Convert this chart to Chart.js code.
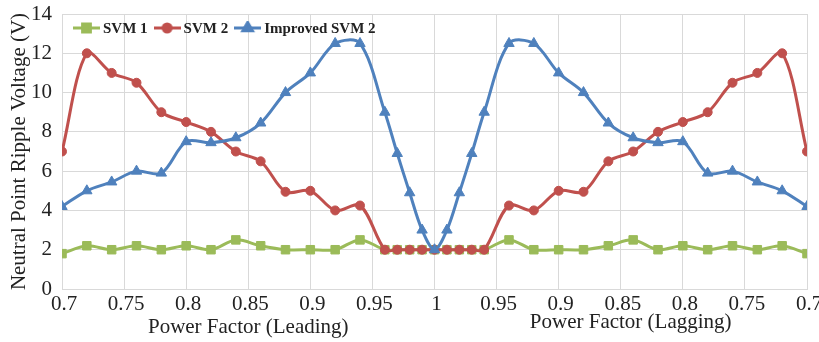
<!DOCTYPE html>
<html>
<head>
<meta charset="utf-8">
<script src="https://cdn.jsdelivr.net/npm/chart.js@4.4.1/dist/chart.umd.min.js"></script>
<style>
    html, body { margin: 0; padding: 0; background: #fff; }
    #wrap { width: 819px; height: 342px; }
</style>
</head>
<body>
<div id="wrap"><canvas id="rippleChart"></canvas></div>
<script>
// power factor sample points, leading side then unity then lagging side
const PF_LEADING = [0.70, 0.72, 0.74, 0.76, 0.78, 0.80, 0.82, 0.84, 0.86, 0.88, 0.90, 0.92, 0.94, 0.96, 0.97, 0.98, 0.99];
const PF_UNITY = [1.00];
const PF_LAGGING = [0.99, 0.98, 0.97, 0.96, 0.94, 0.92, 0.90, 0.88, 0.86, 0.84, 0.82, 0.80, 0.78, 0.76, 0.74, 0.72, 0.70];

const SERIES_NAMES = ['SVM 1', 'SVM 2', 'Improved SVM 2'];

const SVM1 = [
    1.8, 2.2, 2.0, 2.2, 2.0, 2.2, 2.0, 2.5, 2.2, 2.0, 2.0, 2.0, 2.5, 2.0, 2.0, 2.0, 2.0,
    2.0,
    2.0, 2.0, 2.0, 2.0, 2.5, 2.0, 2.0, 2.0, 2.2, 2.5, 2.0, 2.2, 2.0, 2.2, 2.0, 2.2, 1.8
];
const SVM2 = [
    7.0, 12.0, 11.0, 10.5, 9.0, 8.5, 8.0, 7.0, 6.5, 4.95, 5.0, 4.0, 4.25, 2.0, 2.0, 2.0, 2.0,
    2.0,
    2.0, 2.0, 2.0, 2.0, 4.25, 4.0, 5.0, 4.95, 6.5, 7.0, 8.0, 8.5, 9.0, 10.5, 11.0, 12.0, 7.0
];
const IMPROVED_SVM2 = [
    4.2, 5.0, 5.45, 6.0, 5.9, 7.5, 7.45, 7.7, 8.45, 10.0, 11.0, 12.5, 12.5, 9.0, 6.9, 4.9, 3.0,
    2.0,
    3.0, 4.9, 6.9, 9.0, 12.5, 12.5, 11.0, 10.0, 8.45, 7.7, 7.45, 7.5, 5.9, 6.0, 5.45, 5.0, 4.2
];

const Y_TITLE = 'Neutral Point Ripple Voltage (V)';
const X_TITLES = ['Power Factor (Leading)', 'Power Factor (Lagging)'];

const FONT_FAMILY = '"Liberation Serif", "Times New Roman", serif';
const TEXT_COLOR = '#222';
const GRID_COLOR = '#d9d9d9';
const COLORS = ['#9bbb59', '#c0504d', '#4f81bd'];
const STYLES = ['rect', 'circle', 'triangle'];
const RADII = [6, 4.5, 6];

// lagging side is folded out past unity: x = 2 - pf
const xPositions = [...PF_LEADING, ...PF_UNITY, ...PF_LAGGING.map(pf => 2 - pf)];

function toPoints(values) {
    return values.map((y, i) => ({ x: xPositions[i], y: y }));
}

function pfLabel(v) {
    const pf = v <= 1 ? v : 2 - v;
    return String(Math.round(pf * 100) / 100);
}

// little line + marker picture for each legend entry
function legendSwatch(idx) {
    const c = document.createElement('canvas');
    c.width = 27;
    c.height = 14;
    const g = c.getContext('2d');
    g.strokeStyle = COLORS[idx];
    g.fillStyle = COLORS[idx];
    g.lineWidth = 3;
    g.beginPath();
    g.moveTo(0, 7);
    g.lineTo(27, 7);
    g.stroke();
    Chart.helpers.drawPoint(g, { pointStyle: STYLES[idx], radius: RADII[idx] - 0.5, borderWidth: 1, rotation: 0 }, 13.5, 7);
    return c;
}

// excel style legend sitting inside the plot, top left
const insideLegend = {
    id: 'insideLegend',
    afterDatasetsDraw(chart) {
        const { ctx, chartArea } = chart;
        const swatches = chart.$swatches || (chart.$swatches = [0, 1, 2].map(legendSwatch));
        let x = chartArea.left + 11;
        const y = 28;
        ctx.save();
        ctx.font = 'bold 15px ' + FONT_FAMILY;
        ctx.fillStyle = TEXT_COLOR;
        ctx.textAlign = 'left';
        ctx.textBaseline = 'middle';
        chart.data.datasets.forEach((ds, i) => {
            ctx.drawImage(swatches[i], x, y - 7);
            x += 30;
            ctx.fillText(ds.label, x, y + 1);
            x += ctx.measureText(ds.label).width + 6;
        });
        ctx.restore();
    }
};

const axisCaptions = {
    id: 'axisCaptions',
    afterDraw(chart) {
        const { ctx } = chart;
        const x = chart.scales.x;
        ctx.save();
        ctx.font = '21px ' + FONT_FAMILY;
        ctx.fillStyle = TEXT_COLOR;
        ctx.textAlign = 'center';
        ctx.textBaseline = 'middle';
        ctx.fillText(X_TITLES[0], x.getPixelForValue(0.85), 327);
        ctx.fillText(X_TITLES[1], x.getPixelForValue(1.158), 322);
        ctx.restore();
    }
};

function makeDataset(idx, values, order) {
    return {
        label: SERIES_NAMES[idx],
        data: toPoints(values),
        borderColor: COLORS[idx],
        backgroundColor: COLORS[idx],
        borderWidth: 3,
        tension: 0.33,
        fill: false,
        pointStyle: STYLES[idx],
        pointRadius: RADII[idx],
        pointBorderWidth: 1,
        pointBackgroundColor: COLORS[idx],
        pointBorderColor: COLORS[idx],
        order: order
    };
}

function createChart() {
    const tickFont = { family: FONT_FAMILY, size: 21 };

    new Chart(document.getElementById('rippleChart'), {
        type: 'line',
        data: {
            datasets: [
                makeDataset(0, SVM1, 3),
                makeDataset(1, SVM2, 2),
                makeDataset(2, IMPROVED_SVM2, 1)
            ]
        },
        options: {
            responsive: true,
            maintainAspectRatio: false,
            animation: false,
            layout: { padding: { top: 14, right: 12, bottom: 0, left: 0 } },
            plugins: {
                legend: { display: false },
                tooltip: { enabled: false }
            },
            scales: {
                x: {
                    type: 'linear',
                    min: 0.7,
                    max: 1.3,
                    ticks: {
                        stepSize: 0.05,
                        autoSkip: false,
                        maxRotation: 0,
                        padding: 3,
                        labelOffset: 2,
                        color: TEXT_COLOR,
                        font: tickFont,
                        callback: v => pfLabel(v)
                    },
                    grid: { color: GRID_COLOR, drawTicks: false },
                    border: { color: GRID_COLOR },
                    afterFit: s => {
                        s.height = 53;
                        s.paddingLeft = 0;
                        s.paddingRight = 0;
                    }
                },
                y: {
                    min: 0,
                    max: 14,
                    ticks: {
                        stepSize: 2,
                        padding: 10,
                        color: TEXT_COLOR,
                        font: tickFont
                    },
                    grid: { color: GRID_COLOR, drawTicks: false },
                    border: { color: GRID_COLOR },
                    title: {
                        display: true,
                        text: Y_TITLE,
                        color: TEXT_COLOR,
                        font: { family: FONT_FAMILY, size: 21 },
                        padding: { top: 7, bottom: 0 }
                    },
                    afterFit: s => {
                        s.width = 62;
                        s.paddingTop = 0;
                        s.paddingBottom = 0;
                    }
                }
            }
        },
        plugins: [insideLegend, axisCaptions]
    });
}

document.addEventListener('DOMContentLoaded', createChart);
</script>
</body>
</html>
